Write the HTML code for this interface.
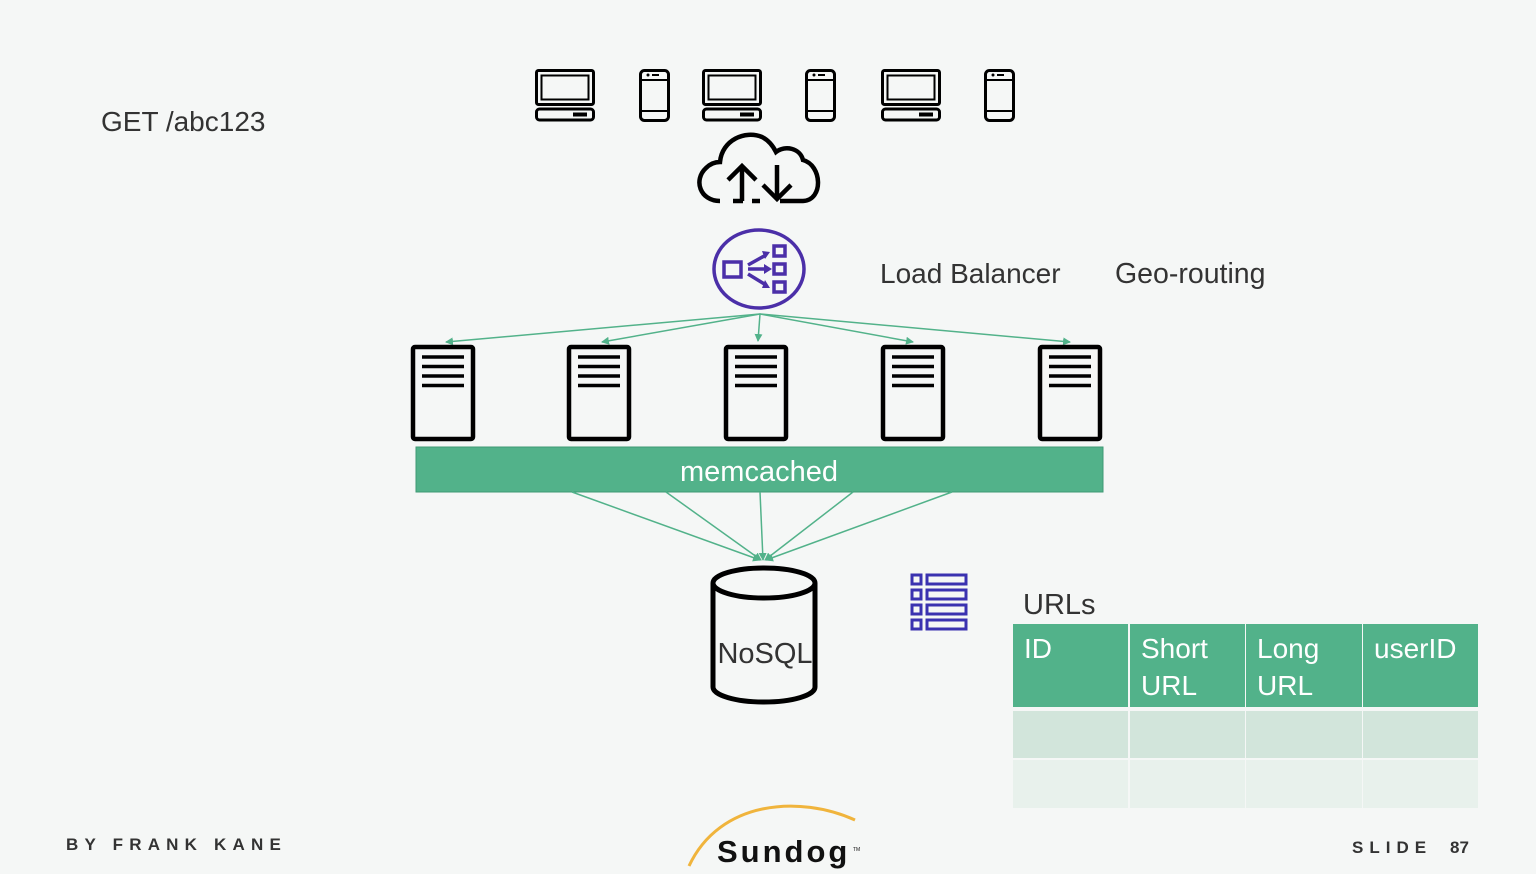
<!DOCTYPE html>
<html><head><meta charset="utf-8"><style>
html,body{margin:0;padding:0;background:#f5f7f6;}
svg{display:block}
text{font-family:"Liberation Sans",sans-serif;}
</style></head><body>
<svg width="1536" height="874" viewBox="0 0 1536 874" xmlns="http://www.w3.org/2000/svg">
<rect width="1536" height="874" fill="#f5f7f6"/>
<defs>
<marker id="ah" markerWidth="8" markerHeight="8" refX="7" refY="4" orient="auto" markerUnits="userSpaceOnUse"><path d="M0,0 L8,4 L0,8 z" fill="#52b28a"/></marker>
<g id="laptop" fill="none" stroke="#000" stroke-width="3">
<rect x="1.5" y="1.5" width="57" height="34" rx="2"/>
<rect x="6.5" y="6.5" width="47" height="24" stroke-width="2"/>
<rect x="1.5" y="40" width="57" height="11" rx="3"/>
<line x1="38" y1="45.5" x2="52" y2="45.5" stroke-width="4"/>
</g>
<g id="phone" fill="none" stroke="#000" stroke-width="3">
<rect x="1.5" y="1.5" width="28" height="50" rx="4"/>
<line x1="1.5" y1="11" x2="29.5" y2="11" stroke-width="2"/>
<line x1="1.5" y1="42" x2="29.5" y2="42" stroke-width="2"/>
<circle cx="9" cy="6" r="1.5" fill="#000" stroke="none"/>
<line x1="13" y1="6" x2="20" y2="6" stroke-width="2"/>
</g>
<g id="server" fill="#f5f7f6" stroke="#000">
<rect x="2" y="2" width="60" height="92" rx="2" stroke-width="4.5"/>
<g stroke-width="3.5"><line x1="11" y1="12" x2="53" y2="12"/><line x1="11" y1="21.5" x2="53" y2="21.5"/><line x1="11" y1="31" x2="53" y2="31"/><line x1="11" y1="40.5" x2="53" y2="40.5"/></g>
</g>
</defs>

<text x="101" y="131" font-size="28" fill="#333">GET /abc123</text>

<use href="#laptop" x="535" y="69"/>
<use href="#phone" x="639" y="69"/>
<use href="#laptop" x="702" y="69"/>
<use href="#phone" x="805" y="69"/>
<use href="#laptop" x="881" y="69"/>
<use href="#phone" x="984" y="69"/>

<!-- cloud -->
<g fill="none" stroke="#000" stroke-width="4.5" stroke-linecap="butt">
<path d="M720,201 C700,201 693,180 706,168 C712,162 718,162 720,162 C722,140 745,130 762,137 C768,140 773,146 776,152 C785,145 800,148 803,160 C822,165 824,200 803,201 L780,201"/>
<path d="M743,201 L733,201"/>
<path d="M752,201 L760,201"/>
<line x1="742" y1="201" x2="742" y2="166"/>
<path d="M728,180 L742,166 L756,180"/>
<line x1="777" y1="165" x2="777" y2="199"/>
<path d="M763,185 L777,199 L791,185"/>
</g>

<!-- load balancer -->
<g fill="none" stroke="#4b2fa8" stroke-width="3.5">
<ellipse cx="759" cy="269" rx="45" ry="39"/>
<rect x="724" y="262" width="17" height="15"/>
<rect x="774" y="246" width="11" height="10"/>
<rect x="774" y="264" width="11" height="10"/>
<rect x="774" y="282" width="11" height="10"/>
<path d="M748,265 L766,255 M748,269 L768,269 M748,274 L766,285"/>
</g>
<g fill="#4b2fa8"><path d="M770,252 L762,251 L765,259z"/><path d="M772,269 L764,264 L764,274z"/><path d="M770,288 L765,280 L762,288z"/></g>

<text x="880" y="283" font-size="28" fill="#333">Load Balancer</text>
<text x="1115" y="283" font-size="28.5" fill="#333">Geo-routing</text>

<!-- LB lines -->
<g stroke="#52b28a" stroke-width="1.5" fill="none" marker-end="url(#ah)">
<line x1="760" y1="314" x2="446" y2="342"/>
<line x1="760" y1="314" x2="602" y2="342"/>
<line x1="760" y1="314" x2="758" y2="341"/>
<line x1="760" y1="314" x2="913" y2="342"/>
<line x1="760" y1="314" x2="1070" y2="342"/>
</g>

<use href="#server" x="411" y="345"/>
<use href="#server" x="567" y="345"/>
<use href="#server" x="724" y="345"/>
<use href="#server" x="881" y="345"/>
<use href="#server" x="1038" y="345"/>

<rect x="416" y="447" width="687" height="45" fill="#52b28a" stroke="#3f9a74" stroke-width="1"/>
<text x="759" y="481" font-size="29" fill="#fff" text-anchor="middle">memcached</text>

<g stroke="#52b28a" stroke-width="1.5" fill="none" marker-end="url(#ah)">
<line x1="572" y1="492" x2="760" y2="560"/>
<line x1="666" y1="492" x2="761" y2="560"/>
<line x1="760" y1="492" x2="763" y2="560"/>
<line x1="853" y1="492" x2="765" y2="560"/>
<line x1="952" y1="492" x2="766" y2="560"/>
</g>

<!-- cylinder -->
<g stroke="#000" stroke-width="5" fill="#f5f7f6">
<path d="M713,583 L713,687 A51,15 0 0 0 815,687 L815,583"/>
<ellipse cx="764" cy="583" rx="51" ry="15"/>
</g>
<text x="765" y="663" font-size="29" fill="#333" text-anchor="middle">NoSQL</text>

<!-- table icon -->
<g fill="none" stroke="#3a32b0" stroke-width="3">
<rect x="912" y="575" width="9" height="9"/><rect x="927" y="575" width="39" height="9"/>
<rect x="912" y="590" width="9" height="9"/><rect x="927" y="590" width="39" height="9"/>
<rect x="912" y="605" width="9" height="9"/><rect x="927" y="605" width="39" height="9"/>
<rect x="912" y="620" width="9" height="9"/><rect x="927" y="620" width="39" height="9"/>
</g>

<text x="1023" y="614" font-size="29" fill="#333">URLs</text>
<g fill="#52b28a">
<rect x="1013" y="624" width="115" height="83"/><rect x="1130" y="624" width="115" height="83"/>
<rect x="1246" y="624" width="116" height="83"/><rect x="1363" y="624" width="115" height="83"/>
</g>
<g fill="#d2e5db">
<rect x="1013" y="711" width="115" height="47"/><rect x="1130" y="711" width="115" height="47"/>
<rect x="1246" y="711" width="116" height="47"/><rect x="1363" y="711" width="115" height="47"/>
</g>
<g fill="#e8f1ec">
<rect x="1013" y="760" width="115" height="48"/><rect x="1130" y="760" width="115" height="48"/>
<rect x="1246" y="760" width="116" height="48"/><rect x="1363" y="760" width="115" height="48"/>
</g>
<g font-size="28" fill="#fff">
<text x="1024" y="658">ID</text>
<text x="1141" y="658">Short</text><text x="1141" y="695">URL</text>
<text x="1257" y="658">Long</text><text x="1257" y="695">URL</text>
<text x="1374" y="658">userID</text>
</g>

<text x="66" y="850" font-size="17" font-weight="bold" fill="#333" letter-spacing="6.2">BY FRANK KANE</text>
<text x="1352" y="853" font-size="17" font-weight="bold" fill="#333" letter-spacing="6">SLIDE</text>
<text x="1450" y="853" font-size="17" font-weight="bold" fill="#333">87</text>

<path d="M689,866 C720,800 800,795 855,820" fill="none" stroke="#f0b43c" stroke-width="3"/>
<text x="717" y="862" font-size="31" font-weight="bold" fill="#111" letter-spacing="3">Sundog</text>
<text x="853" y="851" font-size="5" fill="#111">TM</text>
</svg>
</body></html>
